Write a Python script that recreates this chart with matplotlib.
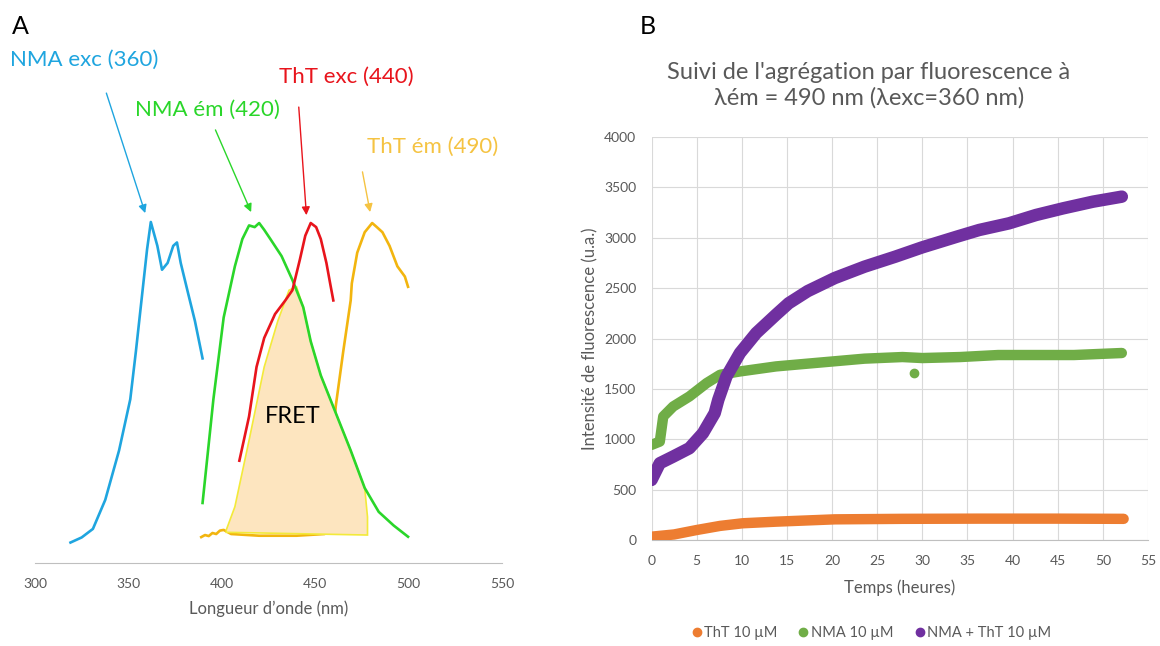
import matplotlib
matplotlib.use("Agg")
import matplotlib.pyplot as plt
from matplotlib.lines import Line2D

plt.rcParams['font.family'] = ['Lato', 'DejaVu Sans']

# ---- Panel A : spectres (intensite normalisee) ----
nma_exc_x = [319, 325, 331, 337.6, 345, 351, 354, 357, 360, 362, 365.5, 368, 371, 374, 376, 378, 382, 385.6, 389.7]
nma_exc_y = [0.06, 0.075, 0.10, 0.185, 0.33, 0.48, 0.62, 0.77, 0.92, 1.0, 0.93, 0.86, 0.88, 0.93, 0.94, 0.88, 0.79, 0.71, 0.60]

nma_em_x = [389.7, 395.5, 401, 407, 411, 414.6, 417.6, 420, 422.7, 426, 432, 437.8, 443.6, 447.6, 453, 461, 469, 476.5, 484, 492, 499.7]
nma_em_y = [0.176, 0.48, 0.72, 0.87, 0.95, 0.99, 0.985, 0.997, 0.977, 0.95, 0.90, 0.83, 0.75, 0.65, 0.55, 0.44, 0.33, 0.22, 0.15, 0.11, 0.077]

tht_exc_x = [409.4, 414.6, 418.6, 422.7, 428.5, 434, 437.8, 441.8, 444.7, 447.6, 450.5, 453, 456, 458, 459.7]
tht_exc_y = [0.30, 0.43, 0.575, 0.66, 0.73, 0.77, 0.80, 0.89, 0.96, 0.997, 0.985, 0.95, 0.88, 0.82, 0.77]

tht_em_x = [389, 391, 393, 395, 397, 399, 401, 405, 420, 440, 455, 458, 461, 465, 469, 469.6, 472.5, 476.5, 480.5, 483, 486, 489.8, 494, 498, 499.7]
tht_em_y = [0.076, 0.082, 0.079, 0.088, 0.085, 0.095, 0.097, 0.085, 0.08, 0.08, 0.085, 0.25, 0.46, 0.62, 0.77, 0.82, 0.91, 0.97, 0.997, 0.985, 0.97, 0.93, 0.87, 0.84, 0.81]

fret_x = [402.4, 407, 414.6, 422.7, 430, 436, 440, 443.6, 447.6, 453, 461, 469, 476.5, 478, 478, 402.4]
fret_y = [0.097, 0.165, 0.36, 0.575, 0.71, 0.80, 0.81, 0.75, 0.65, 0.55, 0.44, 0.33, 0.22, 0.135, 0.082, 0.09]

# ---- Panel B : cinetiques ----
tht_t = [0, 2.5, 5.0, 7.6, 10.1, 13.8, 20.3, 27.8, 36.3, 44.7, 52.3]
tht_v = [33, 55, 99, 140, 166, 182, 205, 210, 212, 212, 210]

nma_t = [0, 0.92, 1.3, 2.4, 4.2, 6.1, 7.6, 9.8, 13.8, 19.4, 23.6, 27.8, 30, 34.2, 38.4, 42.6, 46.8, 52.1]
nma_v = [944, 977, 1226, 1325, 1425, 1557, 1640, 1673, 1723, 1767, 1800, 1816, 1806, 1816, 1836, 1836, 1836, 1856]
outlier_t = [29.1]
outlier_v = [1654]

mix_t = [0, 0.92, 2.4, 4.2, 5.7, 7.0, 7.4, 8.3, 9.8, 11.6, 13.8, 15.2, 17.3, 20.3, 23.6, 27, 30, 33.8, 36.3, 39.6, 42.6, 45.6, 48.9, 52.1]
mix_v = [596, 762, 828, 911, 1060, 1259, 1392, 1623, 1856, 2054, 2237, 2350, 2470, 2600, 2713, 2812, 2905, 3010, 3077, 3143, 3226, 3292, 3358, 3408]

fig = plt.figure(figsize=(11.6, 6.46), dpi=100)
W, H = 1160, 646
grey = '#595959'

# ---------------- A ----------------
axA = fig.add_axes([35 / W, 83 / H, 467 / W, 563 / H])
axA.set_xlim(300, 550)
axA.set_ylim(0, 563 / 341)
c_blue, c_green, c_red, c_orange = '#1fa5df', '#2ad62a', '#e8141c', '#f2b50f'
axA.plot(nma_exc_x, nma_exc_y, color=c_blue, lw=1.9)
axA.plot(nma_em_x, nma_em_y, color=c_green, lw=1.9, zorder=4)
axA.plot(tht_exc_x, tht_exc_y, color=c_red, lw=1.9, zorder=4)
axA.plot(tht_em_x, tht_em_y, color=c_orange, lw=1.9, zorder=2)
axA.fill(fret_x, fret_y, facecolor='#fde5bf', edgecolor='#f3ea3a', lw=1.2, zorder=3)
axA.text(438, 0.43, 'FRET', fontsize=17, ha='center', va='center', color='black', zorder=5)

labels_a = [('NMA exc (360)', c_blue, 286.7, 1.475, (338.2, 1.378), (359, 1.026)),
            ('NMA ém (420)', c_green, 353.8, 1.328, (396.6, 1.27), (415.7, 1.029)),
            ('ThT exc (440)', c_red, 430.8, 1.425, (441.2, 1.337), (445.3, 1.02)),
            ('ThT ém (490)', '#f5c342', 477.7, 1.22, (475.3, 1.147), (479.4, 1.029))]
for txt, col, tx, ty, tail, head in labels_a:
    axA.text(tx, ty, txt, color=col, fontsize=16, ha='left', va='center')
    axA.annotate('', xy=head, xytext=tail, annotation_clip=False,
                 arrowprops=dict(arrowstyle='-|>', color=col, lw=1, mutation_scale=12,
                                 shrinkA=0, shrinkB=0))

for s in ['top', 'right', 'left']:
    axA.spines[s].set_visible(False)
axA.spines['bottom'].set_color('#bfbfbf')
axA.set_yticks([])
axA.set_xticks([300, 350, 400, 450, 500, 550])
axA.tick_params(axis='x', length=0, pad=11, labelsize=10, labelcolor=grey)
axA.set_xlabel('Longueur d’onde (nm)', fontsize=12, color=grey, labelpad=7)
fig.text(12 / W, 1 - 27 / H, 'A', fontsize=18, va='center', ha='left')

# ---------------- B ----------------
axB = fig.add_axes([651.5 / W, (H - 540) / H, 496.5 / W, 403 / H])
c_o, c_g, c_p = '#ed7d31', '#70ad47', '#7030a0'
kw = dict(solid_capstyle='round', solid_joinstyle='round')
axB.plot(tht_t, tht_v, color=c_o, lw=7.5, zorder=3, **kw)
axB.plot(nma_t, nma_v, color=c_g, lw=7.5, zorder=3, **kw)
axB.plot(outlier_t, outlier_v, 'o', color=c_g, ms=6, zorder=3)
axB.plot(mix_t, mix_v, color=c_p, lw=9, zorder=4, **kw)

axB.set_xlim(0, 55)
axB.set_ylim(0, 4000)
axB.set_xticks(range(0, 56, 5))
axB.set_yticks(range(0, 4001, 500))
axB.grid(True, color='#d9d9d9', lw=0.8)
axB.set_axisbelow(True)
for s in ['top', 'right', 'left']:
    axB.spines[s].set_visible(False)
axB.spines['bottom'].set_color('#bfbfbf')
axB.tick_params(length=0, labelsize=10, labelcolor=grey)
axB.tick_params(axis='x', pad=11)
axB.tick_params(axis='y', pad=11)
axB.set_xlabel('Temps (heures)', fontsize=12, color=grey, labelpad=9)
axB.set_ylabel('Intensité de fluorescence (u.a.)', fontsize=12, color=grey, labelpad=4)

fig.text(869 / W, 1 - 85 / H, "Suivi de l'agrégation par fluorescence à\nλém = 490 nm (λexc=360 nm)",
         fontsize=17, color=grey, ha='center', va='center', linespacing=1.25)
fig.text(640 / W, 1 - 27 / H, 'B', fontsize=18, va='center', ha='left')

handles = [Line2D([], [], marker='o', ls='', color=c, ms=6) for c in (c_o, c_g, c_p)]
fig.legend(handles, ['ThT 10 µM', 'NMA 10 µM', 'NMA + ThT 10 µM'], loc='center left',
           bbox_to_anchor=(682 / W, 1 - 633 / H), ncol=3, frameon=False, fontsize=10.5,
           borderpad=0, handlelength=1.0, handletextpad=0.0, columnspacing=1.3, labelcolor=grey)

fig.savefig('out.png', dpi=100)
